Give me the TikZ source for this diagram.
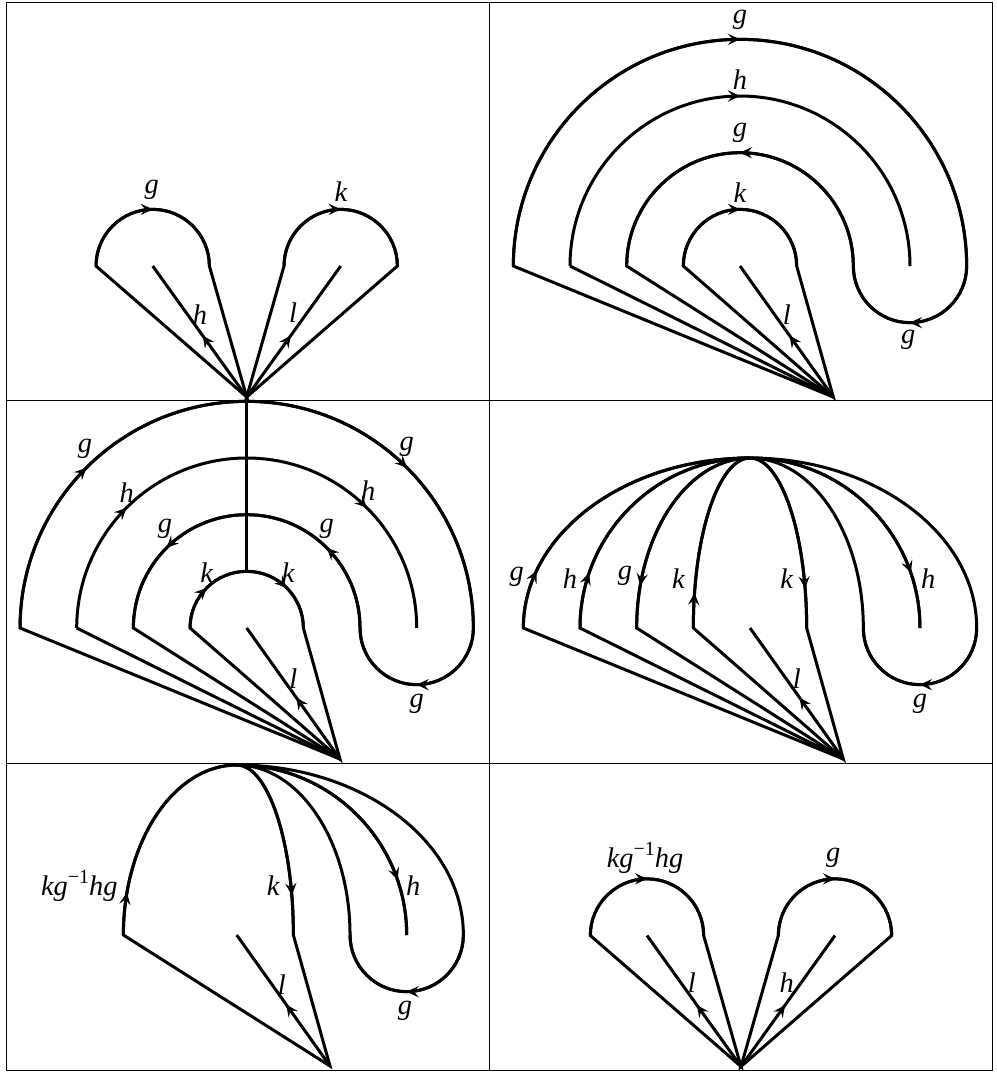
\documentclass[tikz,border=0pt]{standalone}
\usepackage{fontspec}
\setmainfont{Liberation Serif}
\usetikzlibrary{arrows.meta,decorations.markings}
\tikzset{
  myarr/.tip={Stealth[length=6pt,width=5.6pt,inset=2.3pt]},
  curve/.style={line width=1.5pt,line join=miter},
  am/.style={postaction={decorate,decoration={markings,mark=at position #1 with {\arrow{myarr}}}}},
  lbl/.style={inner sep=0pt,font=\fontsize{14.2}{16}\selectfont\itshape},
  gridline/.style={line width=0.5pt}
}
\newcommand\myminusone{\raisebox{0.42em}{\fontsize{10}{10}\selectfont\upshape −1}}
\begin{document}
\begin{tikzpicture}[x=0.5pt,y=-0.5pt]
\useasboundingbox (0,0) rectangle (997,1073);
\def\myRa{56.67}\def\myRb{113.33}\def\myRc{170}\def\myRd{226.67}
% table
\draw[gridline] (6,2) rectangle (992,1070);
\draw[gridline] (489.3,2) -- (489.3,1070);
\draw[gridline] (6,400.7) -- (992,400.7);
\draw[gridline] (6,763.3) -- (992,763.3);

% ---------- panel 1 ----------
\coordinate (A1) at (246.7,397);
\coordinate (cL1) at (152.7,266);
\coordinate (cR1) at (340.7,266);
\coordinate (pL1) at (96.03,266);
\coordinate (pR1) at (284.03,266);
\draw[curve] (A1) -- (pL1) arc[start angle=180,end angle=360,radius=\myRa] -- cycle;
\draw[curve,am=0.5] (pL1) arc[start angle=180,end angle=360,radius=\myRa];
\draw[curve,am=0.47] (A1) -- (cL1);
\draw[curve] (A1) -- (pR1) arc[start angle=180,end angle=360,radius=\myRa] -- cycle;
\draw[curve,am=0.5] (pR1) arc[start angle=180,end angle=360,radius=\myRa];
\draw[curve,am=0.47] (A1) -- (cR1);
\node[lbl] (t1g) at (151.7,190) {g};
\node[lbl] (t1h) at (200,315) {h};
\node[lbl] (t1k) at (341,192) {k};
\node[lbl] (t1l) at (293,313) {l};

% ---------- panel 2 ----------
\coordinate (A2) at (833.3,397);
\coordinate (c2) at (740,266);
\coordinate (k2) at (683.33,266);
\coordinate (o2) at (513.33,266);
\coordinate (h2) at (570,266);
\coordinate (m2) at (853.33,266);
\coordinate (r2) at (966.67,266);
\draw[curve] (A2) -- (k2) arc[start angle=180,end angle=360,radius=\myRa] -- cycle;
\draw[curve,am=0.5] (k2) arc[start angle=180,end angle=360,radius=\myRa];
\draw[curve,am=0.47] (A2) -- (c2);
\draw[curve] (A2) -- (o2) arc[start angle=180,end angle=360,radius=\myRd]
  arc[start angle=0,end angle=180,radius=\myRa]
  arc[start angle=0,end angle=-180,radius=\myRb] -- cycle;
\draw[curve,am=0.5] (o2) arc[start angle=180,end angle=360,radius=\myRd];
\draw[curve,am=0.5] (r2) arc[start angle=0,end angle=180,radius=\myRa];
\draw[curve,am=0.5] (m2) arc[start angle=0,end angle=-180,radius=\myRb];
\draw[curve] (A2) -- (h2);
\draw[curve,am=0.5] (h2) arc[start angle=180,end angle=360,radius=\myRc];
\node[lbl] (t2g1) at (740,20) {g};
\node[lbl] (t2h) at (740,79.3) {h};
\node[lbl] (t2g2) at (740,133) {g};
\node[lbl] (t2k) at (740,192.7) {k};
\node[lbl] (t2l) at (786.7,315) {l};
\node[lbl] (t2g3) at (908.3,340) {g};

% ---------- panel 3 ----------
\coordinate (A3) at (340,759);
\coordinate (c3) at (246.7,628);
\coordinate (k3) at (190.03,628);
\coordinate (g3) at (133.37,628);
\coordinate (h3) at (76.7,628);
\coordinate (o3) at (20.03,628);
\coordinate (m3) at (360.03,628);
\coordinate (r3) at (473.37,628);
\coordinate (v3) at (246.7,571.33);
\draw[curve] (A1) -- (v3);
\draw[curve] (A3) -- (k3) arc[start angle=180,end angle=360,radius=\myRa] -- cycle;
\draw[curve,am=0.25,am=0.75] (k3) arc[start angle=180,end angle=360,radius=\myRa];
\draw[curve,am=0.47] (A3) -- (c3);
\draw[curve] (A3) -- (o3) arc[start angle=180,end angle=360,radius=\myRd]
  arc[start angle=0,end angle=180,radius=\myRa]
  arc[start angle=0,end angle=-180,radius=\myRb] -- cycle;
\draw[curve,am=0.25,am=0.75] (o3) arc[start angle=180,end angle=360,radius=\myRd];
\draw[curve,am=0.5] (r3) arc[start angle=0,end angle=180,radius=\myRa];
\draw[curve,am=0.25,am=0.75] (m3) arc[start angle=0,end angle=-180,radius=\myRb];
\draw[curve] (A3) -- (h3);
\draw[curve,am=0.25,am=0.75] (h3) arc[start angle=180,end angle=360,radius=\myRc];
\node[lbl] (t3g1) at (85,449) {g};
\node[lbl] (t3g2) at (406.7,447.3) {g};
\node[lbl] (t3h1) at (126.7,492.3) {h};
\node[lbl] (t3h2) at (368.3,490.7) {h};
\node[lbl] (t3g3) at (165,529) {g};
\node[lbl] (t3g4) at (326.7,529) {g};
\node[lbl] (t3k1) at (206.7,572.3) {k};
\node[lbl] (t3k2) at (288.3,572.3) {k};
\node[lbl] (t3l) at (293.3,679) {l};
\node[lbl] (t3g5) at (416.7,704) {g};

% ---------- panel 4 ----------
\coordinate (A4) at (843.3,759);
\coordinate (c4) at (750,628);
\coordinate (T4) at (750,458);
\coordinate (o4) at (523.33,628);
\coordinate (h4) at (580,628);
\coordinate (g4) at (636.67,628);
\coordinate (k4) at (693.33,628);
\coordinate (r4) at (976.67,628);
\draw[curve] (A4) -- (o4)
  arc[start angle=180,end angle=270,x radius=\myRd,y radius=\myRc]
  arc[start angle=270,end angle=360,x radius=\myRd,y radius=\myRc]
  arc[start angle=0,end angle=180,radius=\myRa]
  arc[start angle=0,end angle=-90,x radius=\myRb,y radius=\myRc]
  arc[start angle=-90,end angle=-180,x radius=\myRb,y radius=\myRc] -- cycle;
\draw[curve] (A4) -- (h4)
  arc[start angle=180,end angle=270,radius=\myRc]
  arc[start angle=270,end angle=360,radius=\myRc];
\draw[curve] (A4) -- (k4)
  arc[start angle=180,end angle=270,x radius=\myRa,y radius=\myRc]
  arc[start angle=270,end angle=360,x radius=\myRa,y radius=\myRc] -- cycle;
\draw[curve,am=0.47] (A4) -- (c4);
\draw[curve,am=0.19] (o4) arc[start angle=180,end angle=270,x radius=\myRd,y radius=\myRc];
\draw[curve,am=0.21] (h4) arc[start angle=180,end angle=270,radius=\myRc];
\draw[curve,am=0.81] (T4) arc[start angle=-90,end angle=-180,x radius=\myRb,y radius=\myRc];
\draw[curve,am=0.185] (k4) arc[start angle=180,end angle=270,x radius=\myRa,y radius=\myRc];
\draw[curve,am=0.79] (T4) arc[start angle=270,end angle=360,x radius=\myRa,y radius=\myRc];
\draw[curve,am=0.79] (T4) arc[start angle=270,end angle=360,radius=\myRc];
\draw[curve,am=0.5] (r4) arc[start angle=0,end angle=180,radius=\myRa];
\node[lbl] (t4g1) at (516.7,577.3) {g};
\node[lbl] (t4h1) at (570,579) {h};
\node[lbl] (t4g2) at (625,575.7) {g};
\node[lbl] (t4k1) at (678.3,579) {k};
\node[lbl] (t4k2) at (786.7,579) {k};
\node[lbl] (t4h2) at (928.3,579) {h};
\node[lbl] (t4l) at (796.7,679) {l};
\node[lbl] (t4g3) at (920,704) {g};

% ---------- panel 5 ----------
\coordinate (A5) at (330,1066);
\coordinate (c5) at (236.7,935);
\coordinate (T5) at (236.7,765);
\coordinate (p5) at (123.37,935);
\coordinate (r5) at (463.37,935);
\draw[curve] (A5) -- (p5)
  arc[start angle=180,end angle=270,x radius=\myRb,y radius=\myRc]
  arc[start angle=270,end angle=360,x radius=\myRa,y radius=\myRc] -- cycle;
\draw[curve] (T5)
  arc[start angle=270,end angle=360,x radius=\myRd,y radius=\myRc]
  arc[start angle=0,end angle=180,radius=\myRa]
  arc[start angle=0,end angle=-90,x radius=\myRb,y radius=\myRc];
\draw[curve] (T5) arc[start angle=270,end angle=360,radius=\myRc];
\draw[curve,am=0.47] (A5) -- (c5);
\draw[curve,am=0.19] (p5) arc[start angle=180,end angle=270,x radius=\myRb,y radius=\myRc];
\draw[curve,am=0.79] (T5) arc[start angle=270,end angle=360,x radius=\myRa,y radius=\myRc];
\draw[curve,am=0.79] (T5) arc[start angle=270,end angle=360,radius=\myRc];
\draw[curve,am=0.5] (r5) arc[start angle=0,end angle=180,radius=\myRa];
\node[lbl,anchor=east] (t5w) at (118,886) {kg\myminusone hg};
\node[lbl] (t5k) at (273.3,886) {k};
\node[lbl] (t5h) at (413.3,886) {h};
\node[lbl] (t5l) at (281.7,984.3) {l};
\node[lbl] (t5g) at (405,1011) {g};

% ---------- panel 6 ----------
\coordinate (A6) at (741,1066.5);
\coordinate (cL6) at (647,935.5);
\coordinate (cR6) at (835,935.5);
\coordinate (pL6) at (590.33,935.5);
\coordinate (pR6) at (778.33,935.5);
\draw[curve] (A6) -- (pL6) arc[start angle=180,end angle=360,radius=\myRa] -- cycle;
\draw[curve,am=0.5] (pL6) arc[start angle=180,end angle=360,radius=\myRa];
\draw[curve,am=0.47] (A6) -- (cL6);
\draw[curve] (A6) -- (pR6) arc[start angle=180,end angle=360,radius=\myRa] -- cycle;
\draw[curve,am=0.5] (pR6) arc[start angle=180,end angle=360,radius=\myRa];
\draw[curve,am=0.47] (A6) -- (cR6);
\node[lbl] (t6w) at (645,858) {kg\myminusone hg};
\node[lbl] (t6g) at (833.3,857.7) {g};
\node[lbl] (t6l) at (691.7,982.7) {l};
\node[lbl] (t6h) at (786.7,982.7) {h};
\end{tikzpicture}
\end{document}
